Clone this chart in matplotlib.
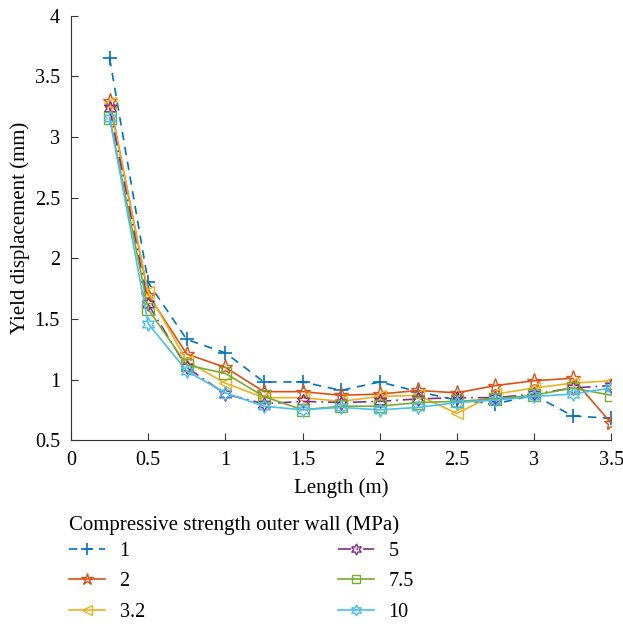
import numpy as np
import matplotlib.pyplot as plt

plt.rcParams['font.family'] = ['Liberation Serif', 'DejaVu Serif']

# lengths (m)
length = [0.25, 0.5, 0.75, 1.0, 1.25, 1.5, 1.75, 2.0, 2.25, 2.5, 2.75, 3.0, 3.25, 3.5]

# yield displacement (mm) per outer-wall strength
s1 = [3.65, 1.80, 1.33, 1.22, 0.98, 0.98, 0.91, 0.98, 0.90, 0.83, 0.80, 0.87, 0.70, 0.68]
s2 = [3.30, 1.70, 1.21, 1.10, 0.90, 0.90, 0.87, 0.88, 0.91, 0.89, 0.95, 0.99, 1.01, 0.64]
s32 = [3.28, 1.72, 1.15, 0.97, 0.85, 0.85, 0.82, 0.86, 0.87, 0.72, 0.88, 0.93, 0.97, 0.99]
s5 = [3.24, 1.62, 1.10, 0.88, 0.80, 0.82, 0.81, 0.82, 0.84, 0.85, 0.85, 0.88, 0.93, 0.95]
s75 = [3.16, 1.58, 1.12, 1.05, 0.86, 0.75, 0.78, 0.78, 0.81, 0.82, 0.84, 0.87, 0.93, 0.87]
s10 = [3.16, 1.46, 1.07, 0.89, 0.78, 0.75, 0.77, 0.75, 0.77, 0.81, 0.83, 0.86, 0.88, 0.93]

labels = ['1', '2', '3.2', '5', '7.5', '10']

fig = plt.figure(figsize=(6.23, 6.27), dpi=100)
ax = fig.add_axes([0.114, 0.298, 0.867, 0.677])

hexa = (6, 1, 0)
ax.plot(length, s1, ls=(0, (5, 4)), color='#0072BD', marker='+', ms=10, mew=1.2, lw=1.2, label=labels[0])
ax.plot(length, s2, ls='-', color='#D95319', marker='*', ms=11, mfc='none', mew=1.0, lw=1.2, label=labels[1])
ax.plot(length, s32, ls='-', color='#EDB120', marker='<', ms=9, mfc='none', mew=1.0, lw=1.2, label=labels[2])
ax.plot(length, s5, ls=(0, (8, 3, 1, 3)), color='#7E2F8E', marker=hexa, ms=10, mfc='none', mew=1.0, lw=1.2, label=labels[3])
ax.plot(length, s75, ls='-', color='#77AC30', marker='s', ms=8, mfc='none', mew=1.0, lw=1.2, label=labels[4])
ax.plot(length, s10, ls='-', color='#4DBEEE', marker=hexa, ms=10, mfc='none', mew=1.0, lw=1.2, label=labels[5])

ax.set_xlim(0, 3.5)
ax.set_ylim(0.5, 4)
ax.set_xticks([0, 0.5, 1, 1.5, 2, 2.5, 3, 3.5])
ax.set_xticklabels(['0', '0.5', '1', '1.5', '2', '2.5', '3', '3.5'])
ax.set_yticks([0.5, 1, 1.5, 2, 2.5, 3, 3.5, 4])
ax.set_yticklabels(['0.5', '1', '1.5', '2', '2.5', '3', '3.5', '4'])
ax.tick_params(direction='in', labelsize=14.5, length=5, color='#333333', pad=8)
for side in ['top', 'right']:
    ax.spines[side].set_visible(False)
for side in ['left', 'bottom']:
    ax.spines[side].set_color('#333333')
ax.set_xlabel('Length (m)', fontsize=15, labelpad=6)
ax.set_ylabel('Yield displacement (mm)', fontsize=15, labelpad=3)

h, l = ax.get_legend_handles_labels()
leg = fig.legend(h, l, loc='upper left', bbox_to_anchor=(0.082, 0.207), ncol=2,
                 frameon=False, fontsize=14.5, title='Compressive strength outer wall (MPa)',
                 title_fontsize=15, columnspacing=9.6, handlelength=1.8,
                 handletextpad=0.7, labelspacing=0.56, markerscale=0.8)
leg._legend_box.align = 'left'
leg._legend_box.sep = 5

fig.savefig('out.png', dpi=100)
